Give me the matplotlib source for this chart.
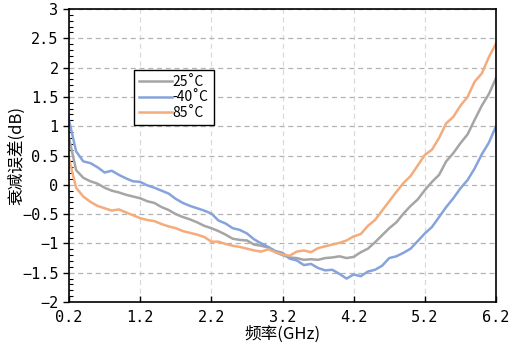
import numpy as np
import matplotlib.pyplot as plt
from matplotlib.ticker import MultipleLocator, FixedLocator

freq = [0.2, 0.3, 0.4, 0.5, 0.6, 0.7, 0.8, 0.9, 1.0, 1.1,
        1.2, 1.3, 1.4, 1.5, 1.6, 1.7, 1.8, 1.9, 2.0, 2.1,
        2.2, 2.3, 2.4, 2.5, 2.6, 2.7, 2.8, 2.9, 3.0, 3.1,
        3.2, 3.3, 3.4, 3.5, 3.6, 3.7, 3.8, 3.9, 4.0, 4.1,
        4.2, 4.3, 4.4, 4.5, 4.6, 4.7, 4.8, 4.9, 5.0, 5.1,
        5.2, 5.3, 5.4, 5.5, 5.6, 5.7, 5.8, 5.9, 6.0, 6.1, 6.2]

err_25 = [0.80, 0.25, 0.12, 0.06, 0.02, -0.05, -0.10, -0.13, -0.17, -0.20,
          -0.23, -0.28, -0.31, -0.38, -0.43, -0.50, -0.55, -0.59, -0.64, -0.70,
          -0.74, -0.79, -0.85, -0.92, -0.94, -0.95, -1.02, -1.04, -1.07, -1.15,
          -1.20, -1.24, -1.25, -1.28, -1.27, -1.28, -1.25, -1.24, -1.22, -1.25,
          -1.23, -1.15, -1.09, -0.98, -0.86, -0.74, -0.64, -0.49, -0.36, -0.25,
          -0.09, 0.05, 0.17, 0.40, 0.54, 0.71, 0.86, 1.11, 1.35, 1.55, 1.82]

err_m40 = [1.10, 0.57, 0.40, 0.37, 0.30, 0.21, 0.24, 0.17, 0.11, 0.06,
           0.05, -0.01, -0.05, -0.10, -0.15, -0.24, -0.31, -0.36, -0.40, -0.44,
           -0.49, -0.61, -0.66, -0.74, -0.77, -0.83, -0.93, -1.00, -1.06, -1.13,
           -1.16, -1.26, -1.29, -1.37, -1.35, -1.42, -1.46, -1.45, -1.52, -1.60,
           -1.53, -1.56, -1.48, -1.45, -1.38, -1.25, -1.22, -1.16, -1.09, -0.96,
           -0.83, -0.72, -0.55, -0.38, -0.23, -0.06, 0.08, 0.28, 0.52, 0.72, 1.00]

err_85 = [0.44, -0.05, -0.20, -0.29, -0.36, -0.40, -0.44, -0.42, -0.47, -0.52,
          -0.57, -0.60, -0.62, -0.67, -0.71, -0.74, -0.79, -0.82, -0.85, -0.89,
          -0.97, -0.97, -1.01, -1.04, -1.06, -1.09, -1.12, -1.14, -1.10, -1.15,
          -1.19, -1.21, -1.14, -1.12, -1.15, -1.08, -1.05, -1.02, -0.99, -0.95,
          -0.88, -0.84, -0.70, -0.60, -0.44, -0.28, -0.12, 0.03, 0.15, 0.33,
          0.51, 0.60, 0.80, 1.05, 1.16, 1.35, 1.50, 1.76, 1.90, 2.18, 2.41]

labels = ['25˚C', '-40˚C', '85˚C']
colors = ['#a5a5a5', '#86a3dc', '#f4ac7c']
xticks = [0.2, 1.2, 2.2, 3.2, 4.2, 5.2, 6.2]
yticks = [-2, -1.5, -1, -0.5, 0, 0.5, 1, 1.5, 2, 2.5, 3]

plt.rcParams['font.family'] = ['Noto Sans CJK SC', 'DejaVu Sans']

fig = plt.figure(figsize=(5.17, 3.45), dpi=100)
ax = fig.add_axes([0.1335, 0.1246, 0.8259, 0.8493])

for ys, lab, c in zip([err_25, err_m40, err_85], labels, colors):
    ax.plot(freq, ys, color=c, lw=1.8, label=lab)

ax.set_xlim(0.2, 6.2)
ax.set_ylim(-2, 3)
ax.xaxis.set_major_locator(FixedLocator(xticks))
ax.yaxis.set_major_locator(FixedLocator(yticks))
ax.yaxis.set_minor_locator(MultipleLocator(0.1))
ax.set_xticklabels([f'{v:g}' for v in xticks], family='DejaVu Sans Mono', fontsize=11)
ax.set_yticklabels([f'{v:g}'.replace('-', '\u2212') for v in yticks], family='DejaVu Sans Mono', fontsize=11)

ax.grid(axis='y', which='major', color='#b3b3b3', ls=(0, (4, 3)), lw=0.9)
ax.grid(axis='x', which='major', color='#d9d9d9', ls=(0, (4, 3)), lw=0.9)
ax.tick_params(axis='y', which='major', direction='out', length=4, width=1)
ax.tick_params(axis='y', which='minor', direction='in', length=3, width=0.8)
ax.tick_params(axis='x', which='major', direction='in', length=4, width=1, pad=6)
for s in ax.spines.values():
    s.set_linewidth(1.2)
    s.set_color('black')

ax.set_xlabel('频率(GHz)', fontsize=12, labelpad=0)
ax.set_ylabel('衰减误差(dB)', fontsize=12, labelpad=-2)

ax.legend(loc='upper left', bbox_to_anchor=(0.152, 0.792), fontsize=10,
          frameon=True, fancybox=False, edgecolor='black', framealpha=1,
          handlelength=2.4, handletextpad=0.05, borderpad=0.35, labelspacing=0.12,
          borderaxespad=0)

fig.savefig('out.png', dpi=100)
